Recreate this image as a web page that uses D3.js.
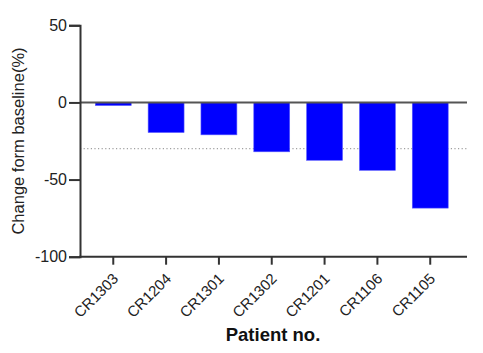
<!DOCTYPE html>
<html><head><meta charset="utf-8">
<script src="https://cdn.jsdelivr.net/npm/d3@7"></script>
<style>body{margin:0;background:#fff}svg{display:block}</style>
</head><body>
<svg id="c" width="483" height="353"></svg>
<script>
const patients = ["CR1303","CR1204","CR1301","CR1302","CR1201","CR1106","CR1105"];
const changes = [-2, -19.5, -21, -32, -37.5, -44, -68.5];
const yTicks = [50, 0, -50, -100];
const threshold = -30;

const svg = d3.select("#c");
const y = d3.scaleLinear().domain([-100, 50]).range([256.7, 25.3]);
const x = d3.scaleBand().domain(patients).range([78.4, 465.1]).paddingInner(0.32).paddingOuter(0.32);
const axisColor = "#333";
const font = "Liberation Sans, Arial, sans-serif";

// dotted threshold line
svg.append("line")
  .attr("x1", 80).attr("x2", 467)
  .attr("y1", y(threshold)).attr("y2", y(threshold))
  .attr("stroke", "#888").attr("stroke-width", 1).attr("stroke-dasharray", "1.2,2.4");

// bars
svg.selectAll("rect.bar").data(patients).enter().append("rect")
  .attr("class", "bar")
  .attr("x", d => x(d))
  .attr("width", x.bandwidth())
  .attr("y", y(0))
  .attr("height", (d, i) => y(changes[i]) - y(0))
  .attr("fill", "#0000ff")
  .attr("stroke", "#5a5aff").attr("stroke-width", 0.6);

// zero line
svg.append("line")
  .attr("x1", 80).attr("x2", 467)
  .attr("y1", y(0)).attr("y2", y(0))
  .attr("stroke", "#555").attr("stroke-width", 2);

// y axis
const yAxis = svg.append("g").attr("transform", "translate(80,0)")
  .call(d3.axisLeft(y).tickValues(yTicks).tickSize(11).tickPadding(2).tickFormat(d => String(d)));
yAxis.select(".domain").attr("stroke", axisColor).attr("stroke-width", 2);
yAxis.selectAll(".tick line").attr("stroke", axisColor).attr("stroke-width", 2);
yAxis.selectAll(".tick text").attr("font-family", font).attr("font-size", 16).attr("fill", "#222");

// x axis
const xAxis = svg.append("g").attr("transform", `translate(0,${y(-100)})`)
  .call(d3.axisBottom(x).tickSize(8).tickSizeOuter(0));
xAxis.select(".domain").attr("d", `M79,0H467`).attr("stroke", axisColor).attr("stroke-width", 2);
xAxis.selectAll(".tick line").attr("stroke", axisColor).attr("stroke-width", 2);
xAxis.selectAll(".tick text")
  .attr("font-family", font).attr("font-size", 15).attr("fill", "#222")
  .attr("text-anchor", "end")
  .attr("dy", null).attr("y", 0)
  .attr("transform", "translate(6,23) rotate(-45)");

// axis titles
svg.append("text")
  .attr("transform", "translate(24,141) rotate(-90)")
  .attr("text-anchor", "middle")
  .attr("font-family", font).attr("font-size", 16.5).attr("fill", "#222")
  .text("Change form baseline(%)");
svg.append("text")
  .attr("x", 273).attr("y", 341)
  .attr("text-anchor", "middle")
  .attr("font-family", font).attr("font-size", 18.5).attr("font-weight", "bold").attr("fill", "#111")
  .text("Patient no.");
</script>
</body></html>
